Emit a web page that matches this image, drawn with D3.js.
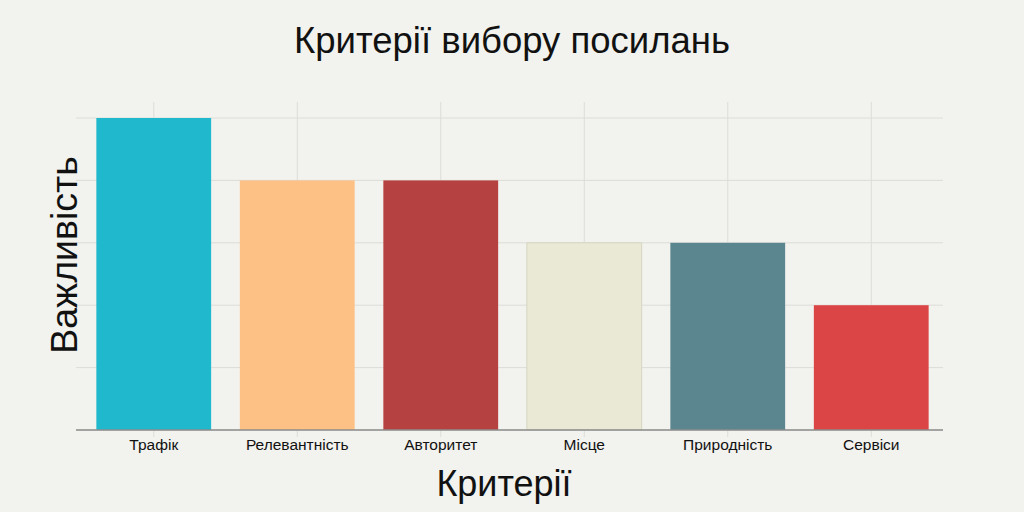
<!DOCTYPE html>
<html><head><meta charset="utf-8">
<script src="https://cdn.jsdelivr.net/npm/d3@7"></script>
<style>html,body{margin:0;padding:0;background:#F2F2EE;}svg{display:block;}
svg text{font-family:"Liberation Sans", Arimo, Arial, Helvetica, sans-serif;}</style>
</head><body><svg id="c" width="1024" height="512"></svg>
<script>
const categories = ["Трафік","Релевантність","Авторитет","Місце","Природність","Сервіси"];
const values = [5,4,4,3,3,2];
const colors = ["#20B8CC","#FEC185","#B54140","#EAE9D6","#5B8690","#DC4546"];
const yTicks = [0,1,2,3,4,5];
const title = "Критерії вибору посилань";
const xTitle = "Критерії";
const yTitle = "Важливість";

const svg = d3.select("#c");
svg.append("rect").attr("width",1024).attr("height",512).attr("fill","#F2F2EE");

const x = d3.scaleBand().domain(categories).range([82,943]).paddingInner(0.2).paddingOuter(0.1);
const y = d3.scaleLinear().domain([0,5]).range([430,118]);

// horizontal gridlines
svg.append("g").selectAll("line").data(yTicks).join("line")
  .attr("x1",76).attr("x2",943).attr("y1",d=>y(d)).attr("y2",d=>y(d))
  .attr("stroke","#DCDCD8").attr("stroke-width",1);
// vertical gridlines
svg.append("g").selectAll("line").data(categories).join("line")
  .attr("x1",d=>x(d)+x.bandwidth()/2).attr("x2",d=>x(d)+x.bandwidth()/2)
  .attr("y1",102).attr("y2",437)
  .attr("stroke","#DCDCD8").attr("stroke-width",1);

// bars
svg.append("g").selectAll("rect").data(categories).join("rect")
  .attr("x",d=>x(d)).attr("width",x.bandwidth())
  .attr("y",(d,i)=>y(values[i])).attr("height",(d,i)=>y(0)-y(values[i]))
  .attr("fill",(d,i)=>colors[i])
  .attr("stroke",(d,i)=>i===3?"#D6D6C2":"none").attr("stroke-width",1);

// x axis
const xa = svg.append("g").attr("transform","translate(0,430)")
  .call(d3.axisBottom(x).tickSize(0).tickPadding(6));
xa.select(".domain").attr("stroke","#8C8C8C").attr("stroke-width",1.5).attr("d","M76,0H943");
xa.selectAll("text").attr("font-size",15.5).attr("fill","#111").attr("dy","0.9em");
svg.selectAll("g").attr("font-family",null).attr("font-size",null);

// titles
svg.append("text").attr("x",512).attr("y",53).attr("text-anchor","middle")
  .attr("font-size",36.5).attr("fill","#111").text(title);
svg.append("text").attr("x",504).attr("y",496).attr("text-anchor","middle")
  .attr("font-size",36).attr("fill","#111").text(xTitle);
svg.append("text").attr("transform","translate(77,255) rotate(-90)").attr("text-anchor","middle")
  .attr("font-size",37.5).attr("fill","#111").text(yTitle);
</script></body></html>
